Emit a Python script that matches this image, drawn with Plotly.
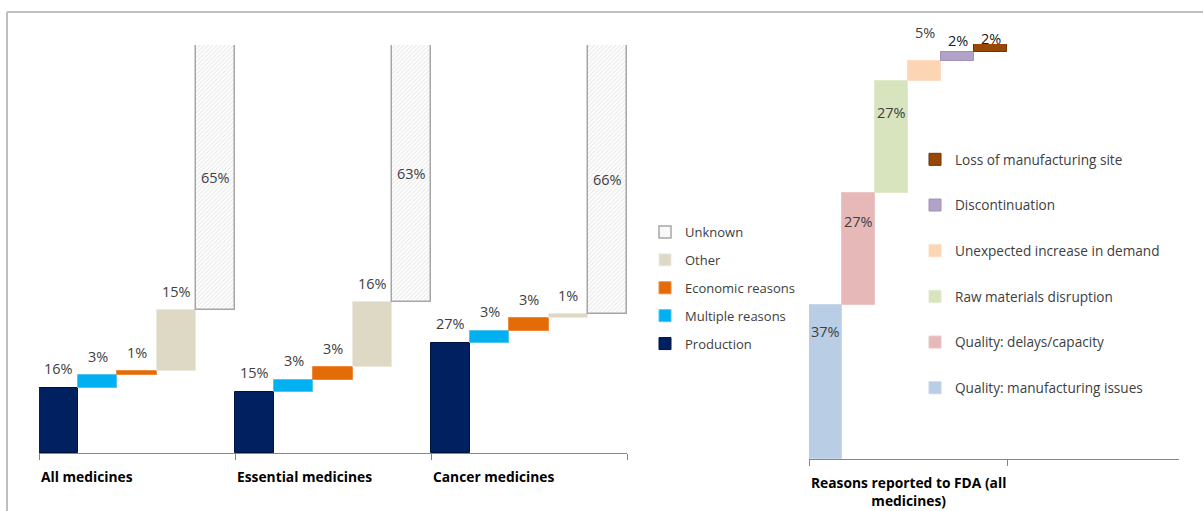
import numpy as np
import plotly.graph_objects as go

# left panel: share of shortages by reason, per medicine group
groups = ["All medicines", "Essential medicines", "Cancer medicines"]
reasons = ["Production", "Multiple reasons", "Economic reasons", "Other", "Unknown"]
production = [16, 15, 27]
multiple = [3, 3, 3]
economic = [1, 3, 3]
other = [15, 16, 1]
unknown = [65, 63, 66]

# right panel: reasons reported to FDA (all medicines)
fda_label = "Reasons reported to FDA (all<br>medicines)"
fda_reasons = [
    "Quality: manufacturing issues",
    "Quality: delays/capacity",
    "Raw materials disruption",
    "Unexpected increase in demand",
    "Discontinuation",
    "Loss of manufacturing site",
]
fda_values = [37, 27, 27, 5, 2, 2]

# styles
reason_fill = ["#002060", "#00B0F0", "#E36C09", "#DDD9C4", "#FFFFFF"]
reason_line = ["#001240", "#4FC6F2", "#F08A3A", "#ECEADF", "#A6A6A6"]
fda_fill = ["#B9CDE5", "#E6B9B8", "#D7E4BD", "#FCD5B5", "#B3A2C7", "#984807"]
fda_line = ["#C8D7EA", "#EBC6C5", "#E0EACB", "#FDDCC2", "#A391BA", "#6E3305"]
fda_label_shift = [-26, -28, -31, 28, 12, 6]

W, H = 1203, 511
FONT = "Open Sans"
TXT = "#404040"


def px_x(p):
    return p / W


def px_y(p):
    return 1 - p / H


fig = go.Figure()

# ---- left waterfall ----
series = [production, multiple, economic, other, unknown]
cum = np.zeros(len(groups))
annotations = []
for k, (name, vals) in enumerate(zip(reasons, series)):
    vals = np.array(vals, dtype=float)
    xs = [g * 5 + k for g in range(len(groups))]
    marker = dict(color=reason_fill[k], line=dict(color=reason_line[k], width=1))
    if name == "Unknown":
        marker = dict(
            color="#FFFFFF",
            line=dict(color=reason_line[k], width=1.5),
            pattern=dict(shape="/", fgcolor="#C8C8C8", bgcolor="#FFFFFF", size=3, solidity=0.3),
        )
    fig.add_trace(go.Bar(
        x=xs, y=vals, base=cum.copy(), name=name, width=1.0, marker=marker,
        legend="legend", legendgroup=name, legendrank=100 - k,
        xaxis="x", yaxis="y", hoverinfo="skip",
    ))
    for x, b, v in zip(xs, cum, vals):
        if name == "Unknown":
            annotations.append(dict(x=x, y=b + v / 2, xref="x", yref="y", text=f"{int(v)}%",
                                    showarrow=False, font=dict(family=FONT, size=14.5, color=TXT)))
        else:
            annotations.append(dict(x=x, y=b + v, xref="x", yref="y", text=f"{int(v)}%",
                                    showarrow=False, yshift=19,
                                    font=dict(family=FONT, size=14.5, color=TXT)))
    cum = cum + vals

for g, label in enumerate(groups):
    annotations.append(dict(x=g * 5 - 0.5, y=px_y(476), xref="x", yref="paper", text=f"<b>{label}</b>",
                            xanchor="left", yanchor="middle", showarrow=False,
                            font=dict(family=FONT, size=13.8, color="#000000")))

# ---- right waterfall ----
fda_base = np.concatenate([[0], np.cumsum(fda_values)[:-1]])
for i, (name, v, b) in enumerate(zip(fda_reasons, fda_values, fda_base)):
    fig.add_trace(go.Bar(
        x=[i], y=[v], base=[b], name=name, width=1.0,
        marker=dict(color=fda_fill[i], line=dict(color=fda_line[i], width=1)),
        legend="legend2", legendgroup=name, legendrank=100 - i,
        xaxis="x2", yaxis="y2", hoverinfo="skip",
    ))
    annotations.append(dict(x=i, y=b + v, xref="x2", yref="y2", text=f"{v}%",
                            showarrow=False, yshift=fda_label_shift[i],
                            font=dict(family=FONT, size=14.5, color=TXT if v > 2 else "#202020")))

annotations.append(dict(x=2.5, y=px_y(491), xref="x2", yref="paper", text=f"<b>{fda_label}</b>",
                        xanchor="center", yanchor="middle", align="center", showarrow=False,
                        font=dict(family=FONT, size=13.8, color="#000000")))

# frame
shapes = [
    dict(type="line", xref="paper", yref="paper", x0=px_x(7), x1=1, y0=px_y(12), y1=px_y(12),
         line=dict(color="#BFBFBF", width=2)),
    dict(type="line", xref="paper", yref="paper", x0=px_x(7), x1=px_x(7), y0=px_y(12), y1=0,
         line=dict(color="#BFBFBF", width=2)),
]

fda_bar_w = (1007 - 809) / 6
fda_span = (1179 - 809) / fda_bar_w

axis_common = dict(showgrid=False, zeroline=False, showline=True, linecolor="#868686", linewidth=1,
                   ticks="outside", ticklen=6, tickcolor="#868686", showticklabels=False, fixedrange=True)

fig.update_layout(
    width=W, height=H,
    margin=dict(l=0, r=0, t=0, b=0),
    paper_bgcolor="white", plot_bgcolor="white",
    barmode="overlay", bargap=0,
    font=dict(family=FONT, color=TXT),
    xaxis=dict(domain=[px_x(39), px_x(627)], range=[-0.5, 14.5],
               tickvals=[-0.5, 4.5, 9.5, 14.5], **axis_common),
    yaxis=dict(domain=[px_y(453), px_y(45)], range=[0, 100], visible=False, fixedrange=True),
    xaxis2=dict(domain=[px_x(809), px_x(1179)], range=[-0.5, -0.5 + fda_span],
                tickvals=[-0.5, 5.5], anchor="y2", **axis_common),
    yaxis2=dict(domain=[px_y(459), px_y(44)], range=[0, 100], visible=False, fixedrange=True,
                anchor="x2"),
    legend=dict(x=px_x(645), y=px_y(217), xanchor="left", yanchor="top",
                traceorder="grouped", tracegroupgap=8,
                font=dict(family=FONT, size=13, color=TXT), bgcolor="rgba(0,0,0,0)"),
    legend2=dict(x=px_x(915), y=px_y(144), xanchor="left", yanchor="top",
                 traceorder="grouped", tracegroupgap=25,
                 font=dict(family=FONT, size=13.6, color=TXT), bgcolor="rgba(0,0,0,0)"),
    annotations=annotations,
    shapes=shapes,
)

# page body has a default 8px margin; drop it so the figure fills the window
fig.write_html("out.html", config={"displayModeBar": False},
               post_script="document.body.style.margin='0';")
